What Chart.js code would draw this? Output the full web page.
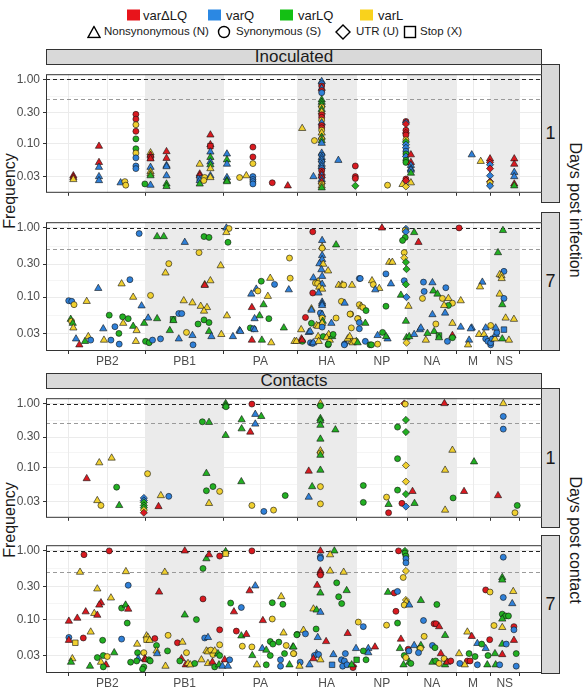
<!DOCTYPE html>
<html lang="en">
<head>
<meta charset="UTF-8">
<title>Variant frequencies</title>
<script src="https://cdn.jsdelivr.net/npm/chart.js"></script>
<style>
  body { margin: 0; background: #fff; font-family: 'Liberation Sans', Arial, sans-serif; }
  #wrap { position: relative; width: 583px; height: 687px; overflow: hidden; }
  canvas { position: absolute; left: 0; }
  .abs { position: absolute; white-space: nowrap; color: #1a1a1a; }
  .strip { position: absolute; box-sizing: border-box; background: #D9D9D9; border: 1px solid #333;
           display: flex; align-items: center; justify-content: center; color: #1a1a1a; }
  .lg { position: absolute; line-height: 1; transform: translateY(-50%); color: #1a1a1a; }
</style>
</head>
<body>
<div id="wrap">
  <!-- legend -->
  <div class="lg" style="left:127px;top:15px;width:13px;height:11px;background:#E8141B"></div>
  <div class="lg" style="left:143px;top:15px;font-size:13px">varΔLQ</div>
  <div class="lg" style="left:208px;top:15px;width:13px;height:11px;background:#2B88E3"></div>
  <div class="lg" style="left:226px;top:15px;font-size:13px">varQ</div>
  <div class="lg" style="left:280px;top:15px;width:13px;height:11px;background:#14C014"></div>
  <div class="lg" style="left:298px;top:15px;font-size:13px">varLQ</div>
  <div class="lg" style="left:360px;top:15px;width:13px;height:11px;background:#F9D21C"></div>
  <div class="lg" style="left:378px;top:15px;font-size:13px">varL</div>

  <svg class="lg" style="left:87px;top:32px" width="14" height="13"><polygon points="7,1 13,12 1,12" fill="none" stroke="#000" stroke-width="1.4"/></svg>
  <div class="lg" style="left:104px;top:32px;font-size:11.5px">Nonsynonymous (N)</div>
  <svg class="lg" style="left:217px;top:32px" width="14" height="14"><circle cx="7" cy="7" r="5.5" fill="none" stroke="#000" stroke-width="1.4"/></svg>
  <div class="lg" style="left:236px;top:32px;font-size:11.5px">Synonymous (S)</div>
  <svg class="lg" style="left:335px;top:32px" width="16" height="16"><polygon points="8,1 15,8 8,15 1,8" fill="none" stroke="#000" stroke-width="1.4"/></svg>
  <div class="lg" style="left:356px;top:32px;font-size:11.5px">UTR (U)</div>
  <svg class="lg" style="left:403px;top:32px" width="14" height="14"><rect x="1.5" y="1.5" width="11" height="11" fill="none" stroke="#000" stroke-width="1.4"/></svg>
  <div class="lg" style="left:420px;top:32px;font-size:11.5px">Stop (X)</div>

  <!-- strips -->
  <div class="strip" style="left:46px;top:49px;width:496px;height:16px;font-size:17px">Inoculated</div>
  <div class="strip" style="left:46px;top:373px;width:496px;height:16px;font-size:17px">Contacts</div>
  <div class="strip" style="left:541px;top:64px;width:19px;height:139px;font-size:18px">1</div>
  <div class="strip" style="left:541px;top:212px;width:19px;height:139px;font-size:18px">7</div>
  <div class="strip" style="left:541px;top:388px;width:19px;height:140px;font-size:18px">1</div>
  <div class="strip" style="left:541px;top:535px;width:19px;height:139px;font-size:18px">7</div>

  <!-- axis titles -->
  <div class="abs" style="left:10px;top:191px;font-size:16px;transform:translate(-50%,-50%) rotate(-90deg)">Frequency</div>
  <div class="abs" style="left:10px;top:520px;font-size:16px;transform:translate(-50%,-50%) rotate(-90deg)">Frequency</div>
  <div class="abs" style="left:575px;top:210px;font-size:16px;transform:translate(-50%,-50%) rotate(90deg)">Days post infection</div>
  <div class="abs" style="left:575px;top:540px;font-size:16px;transform:translate(-50%,-50%) rotate(90deg)">Days post contact</div>

  <canvas id="inoc1" width="542" height="139" style="top:64px"></canvas>
  <canvas id="inoc7" width="542" height="161" style="top:212px"></canvas>
  <canvas id="cont1" width="542" height="140" style="top:388px"></canvas>
  <canvas id="cont7" width="542" height="152" style="top:535px"></canvas>
</div>
<script>
// genome segments (concatenated along the x axis)
const segments = ['PB2', 'PB1', 'PA', 'HA', 'NP', 'NA', 'M', 'NS'];
const segLengths = [2341, 2341, 2233, 1778, 1565, 1458, 1027, 890];
const variants = ['varΔLQ', 'varQ', 'varLQ', 'varL'];
const mutTypes = ['N', 'S', 'U', 'X'];
const freqTicks = [0.03, 0.10, 0.30, 1.00];

// [genome position, frequency, variant index, mutation type]
const inoculatedDay1 = [
  [145,0.031,0,'N'],[145,0.029,0,'N'],[145,0.027,3,'N'],
  [920,0.090,0,'N'],[920,0.050,0,'N'],[920,0.042,1,'N'],[920,0.030,1,'N'],[920,0.026,1,'N'],
  [1574,0.024,1,'N'],[1704,0.025,3,'S'],[1730,0.022,3,'S'],
  [2036,0.284,0,'S'],[2036,0.239,0,'S'],[2036,0.195,3,'S'],[2036,0.154,0,'S'],[2036,0.117,2,'S'],
  [2036,0.082,2,'S'],[2036,0.070,3,'S'],[2036,0.059,1,'S'],[2036,0.044,1,'S'],[2036,0.040,1,'S'],
  [2307,0.023,2,'S'],
  [2479,0.071,3,'N'],[2479,0.065,0,'N'],[2479,0.060,0,'X'],[2479,0.057,0,'N'],[2479,0.042,1,'N'],
  [2479,0.036,3,'N'],[2479,0.033,3,'N'],[2479,0.031,2,'N'],[2479,0.022,1,'N'],
  [2962,0.074,0,'N'],[2962,0.058,0,'N'],[2962,0.045,1,'N'],[2962,0.043,1,'N'],[2962,0.031,1,'N'],
  [2962,0.023,2,'N'],[2962,0.021,2,'N'],
  [3966,0.047,3,'N'],[3966,0.033,0,'N'],[3966,0.031,0,'N'],[3966,0.028,1,'X'],[3966,0.026,1,'N'],
  [3966,0.023,2,'N'],[4117,0.029,3,'S'],[4090,0.026,3,'S'],
  [4289,0.135,0,'N'],[4289,0.095,0,'N'],[4289,0.090,0,'X'],[4289,0.073,1,'N'],[4289,0.060,2,'N'],
  [4289,0.051,1,'N'],[4289,0.046,2,'N'],[4289,0.040,3,'N'],[4289,0.031,1,'N'],[4289,0.029,3,'N'],
  [4789,0.068,1,'N'],[4789,0.055,2,'N'],[4789,0.047,1,'N'],[4789,0.029,1,'N'],[4789,0.026,2,'N'],[4789,0.025,2,'N'],
  [5172,0.029,3,'S'],[5375,0.031,3,'N'],
  [5574,0.087,0,'S'],[5574,0.061,0,'S'],[5574,0.048,3,'S'],[5574,0.030,1,'S'],[5574,0.027,1,'S'],
  [5574,0.025,1,'S'],[5574,0.023,1,'S'],
  [6159,0.024,0,'S'],[6629,0.0215,0,'N'],
  [7064,0.171,3,'N'],[7404,0.030,1,'N'],[7434,0.110,3,'S'],
  [7654,0.93,1,'N'],[7654,0.86,1,'S'],[7654,0.79,0,'S'],[7654,0.73,1,'N'],[7654,0.67,0,'S'],[7654,0.62,1,'S'],
  [7654,0.48,2,'N'],[7654,0.44,2,'N'],[7654,0.40,2,'N'],[7654,0.37,3,'S'],[7654,0.34,2,'N'],[7654,0.31,3,'N'],
  [7654,0.28,0,'S'],[7654,0.255,0,'S'],[7654,0.23,3,'S'],[7654,0.21,1,'N'],[7654,0.19,0,'S'],[7654,0.175,0,'S'],
  [7654,0.16,3,'S'],[7654,0.145,3,'N'],[7654,0.125,2,'N'],[7654,0.117,3,'S'],[7654,0.11,2,'N'],[7654,0.10,1,'N'],
  [7654,0.070,1,'N'],[7654,0.065,1,'S'],[7654,0.060,1,'N'],[7654,0.055,1,'N'],[7654,0.051,1,'S'],[7654,0.047,1,'N'],
  [7654,0.043,1,'N'],[7654,0.040,1,'S'],[7654,0.037,0,'S'],[7654,0.034,0,'N'],[7654,0.031,1,'N'],[7654,0.029,0,'S'],
  [7654,0.027,1,'N'],[7654,0.025,0,'N'],[7654,0.023,3,'S'],[7654,0.0215,3,'N'],[7654,0.020,2,'N'],
  [8158,0.054,1,'N'],
  [8671,0.044,0,'S'],[8671,0.030,0,'S'],[8671,0.028,0,'S'],[8671,0.0215,2,'U'],
  [9645,0.022,3,'S'],
  [10098,0.0226,3,'N'],[10200,0.021,3,'U'],[10351,0.024,3,'N'],
  [10200,0.22,0,'S'],[10200,0.21,1,'U'],[10200,0.20,0,'U'],[10200,0.16,0,'S'],[10200,0.145,0,'U'],[10200,0.135,0,'S'],
  [10200,0.113,3,'S'],[10200,0.105,2,'U'],[10200,0.095,1,'U'],[10200,0.085,1,'U'],[10200,0.075,1,'S'],[10200,0.068,2,'S'],
  [10200,0.062,1,'U'],[10200,0.054,2,'S'],[10200,0.050,2,'S'],[10200,0.0275,0,'S'],[10200,0.026,0,'U'],
  [10351,0.066,0,'N'],[10351,0.050,0,'N'],[10351,0.045,1,'N'],[10351,0.040,1,'N'],[10351,0.038,1,'N'],[10351,0.034,2,'N'],
  [12191,0.066,1,'N'],[12462,0.052,3,'N'],
  [12743,0.057,0,'N'],[12743,0.050,0,'U'],[12743,0.046,1,'U'],[12743,0.040,0,'U'],[12743,0.031,1,'U'],
  [12743,0.025,0,'U'],[12743,0.024,3,'S'],[12743,0.0215,1,'U'],
  [13476,0.057,0,'N'],[13476,0.047,0,'N'],[13476,0.035,1,'N'],[13476,0.030,1,'N'],[13476,0.023,0,'N'],[13476,0.0215,2,'N']
];

const inoculatedDay7 = [
  [5,0.089,1,'S'],[96,0.087,1,'S'],[166,0.078,3,'S'],[549,0.087,3,'N'],[899,0.134,1,'N'],[1604,0.156,3,'N'],
  [1855,0.179,1,'S'],[2135,0.83,1,'S'],[1954,0.100,3,'N'],[2208,0.075,1,'N'],[2479,0.106,3,'S'],
  [2678,0.75,2,'N'],[2880,0.75,2,'N'],[3514,0.62,1,'N'],[3031,0.305,3,'S'],[2931,0.224,3,'N'],
  [4096,0.75,2,'S'],[4247,0.73,2,'S'],[3945,0.44,3,'S'],[4599,0.285,3,'N'],[4117,0.152,3,'N'],[4117,0.148,0,'N'],
  [4289,0.173,3,'N'],[4771,1.0,1,'N'],[4850,0.98,3,'S'],[4771,0.86,3,'N'],[4820,0.62,2,'S'],
  [3483,0.089,3,'N'],[3746,0.083,3,'N'],[3333,0.058,1,'S'],[3423,0.058,1,'S'],[3996,0.074,3,'N'],[4186,0.071,3,'N'],
  [4096,0.063,3,'N'],[3161,0.048,2,'X'],[3170,0.046,2,'N'],[2407,0.050,1,'N'],[2678,0.049,2,'N'],[2286,0.042,2,'N'],
  [4096,0.047,2,'S'],[3915,0.041,2,'S'],[4247,0.043,2,'S'],[4789,0.054,3,'N'],[1230,0.055,2,'S'],[1635,0.052,2,'S'],
  [1804,0.049,2,'S'],[1653,0.042,3,'N'],[1954,0.038,2,'N'],[1402,0.0375,1,'S'],[1050,0.035,1,'N'],[66,0.048,2,'N'],
  [90,0.045,3,'S'],[127,0.042,2,'N'],[145,0.036,3,'N'],[2057,0.033,3,'N'],[3565,0.031,3,'S'],
  [5525,0.111,1,'N'],[5676,0.131,1,'N'],[5724,0.123,3,'S'],[5827,0.17,2,'S'],[6026,0.103,3,'N'],[6098,0.188,3,'N'],
  [6228,0.153,1,'S'],[6659,0.128,1,'N'],[6680,0.367,3,'S'],[6701,0.188,3,'S'],[5543,0.071,0,'N'],[5896,0.078,2,'N'],
  [5775,0.054,2,'N'],[5625,0.049,1,'N'],[6056,0.049,2,'S'],[5172,0.033,1,'N'],[5495,0.036,2,'S'],[5595,0.035,1,'S'],
  [6509,0.036,2,'N'],
  [226,0.025,1,'N'],[326,0.0205,0,'N'],[498,0.023,2,'N'],[597,0.027,3,'N'],[670,0.024,1,'S'],[1071,0.024,3,'N'],
  [1282,0.024,1,'S'],[1523,0.030,2,'S'],[1532,0.021,1,'S'],[2036,0.023,3,'N'],[2328,0.023,2,'S'],[2437,0.022,2,'S'],
  [2539,0.024,1,'S'],[2781,0.025,1,'S'],[3061,0.033,2,'N'],[3333,0.025,1,'N'],[3746,0.028,1,'N'],[3764,0.0205,1,'S'],
  [4247,0.032,2,'N'],[4319,0.027,1,'N'],[4620,0.029,3,'N'],[4970,0.027,1,'N'],[5193,0.032,1,'N'],[5625,0.034,1,'N'],
  [5543,0.024,0,'N'],[5845,0.024,2,'N'],[6129,0.022,3,'N'],[6831,0.023,3,'N'],
  [7383,0.88,0,'S'],[7667,0.66,1,'N'],[8089,0.57,2,'N'],[7667,0.53,3,'N'],[7667,0.51,3,'S'],[7667,0.40,1,'N'],
  [7667,0.35,1,'N'],[7585,0.305,1,'N'],[7700,0.30,3,'N'],[7645,0.25,1,'N'],[7847,0.24,3,'N'],[7667,0.20,1,'N'],
  [7404,0.19,1,'N'],[7546,0.168,3,'N'],[7465,0.160,3,'S'],[7530,0.158,3,'S'],[7667,0.154,1,'N'],[7580,0.14,3,'N'],
  [7667,0.131,3,'N'],[8167,0.149,3,'N'],[8270,0.151,3,'N'],[8320,0.150,3,'S'],[8571,0.149,3,'N'],[7383,0.115,0,'S'],
  [7560,0.115,1,'N'],[7667,0.085,1,'N'],[7667,0.080,1,'N'],[7667,0.076,1,'N'],[8250,0.087,3,'S'],[8348,0.082,1,'N'],
  [7344,0.068,3,'N'],[7344,0.065,1,'N'],[7163,0.051,0,'S'],[7615,0.059,1,'S'],[7667,0.056,1,'N'],[7667,0.050,3,'S'],
  [7685,0.045,2,'N'],[7667,0.042,3,'N'],[8089,0.050,3,'S'],[8530,0.057,3,'S'],[7947,0.042,1,'N'],[7344,0.042,2,'S'],
  [7500,0.039,3,'N'],[7546,0.038,3,'N'],[7667,0.037,1,'S'],[7033,0.034,3,'N'],[7262,0.031,1,'N'],[8550,0.036,3,'S'],
  [8752,0.049,3,'S'],[7042,0.025,0,'N'],[7546,0.027,3,'N'],[7866,0.029,3,'N'],[7700,0.027,2,'S'],[7800,0.026,3,'N'],
  [7314,0.022,1,'S'],[7380,0.0215,1,'S'],[7847,0.0205,2,'S'],[8348,0.021,1,'S'],[8469,0.025,3,'N'],[8560,0.023,3,'N'],
  [8701,0.023,2,'N'],[7070,0.023,2,'S'],[7305,0.032,1,'N'],[6890,0.023,3,'N'],[7064,0.024,0,'N'],[7400,0.022,1,'N'],
  [7564,0.023,3,'N'],[7900,0.024,3,'N'],[7970,0.027,2,'N'],[8000,0.029,2,'S'],[7857,0.021,2,'S'],
  [8792,0.078,3,'S'],[8850,0.073,3,'N'],[8900,0.071,3,'S'],[8994,0.064,2,'S'],[8511,0.057,3,'S'],[8741,0.049,3,'S'],
  [8973,0.042,2,'N'],[8792,0.043,1,'S'],[8792,0.035,1,'S'],[8973,0.023,1,'S'],[9114,0.0205,2,'S'],[9160,0.0205,2,'S'],
  [9344,0.021,3,'S'],[9344,0.028,1,'N'],[9494,0.031,2,'S'],[9645,0.025,1,'N'],[9600,0.027,2,'N'],[8339,0.0205,1,'S'],
  [8439,0.025,3,'N'],[8500,0.027,3,'N'],[8590,0.022,3,'N'],[8650,0.023,3,'S'],[8741,0.022,2,'N'],
  [9476,1.0,0,'N'],[9595,0.217,1,'S'],[8792,0.186,1,'S'],[8820,0.186,1,'S'],[9175,0.173,3,'N'],[9214,0.152,3,'S'],
  [9395,0.134,3,'N'],[9274,0.128,1,'N'],[9748,0.156,1,'N'],[9695,0.32,3,'N'],[9790,0.32,3,'N'],[9597,0.074,2,'S'],
  [10278,0.074,3,'N'],
  [10200,0.97,1,'U'],[10180,0.92,3,'S'],[10200,0.88,1,'U'],[10450,0.86,2,'N'],[10179,0.73,2,'S'],[10098,0.66,2,'S'],
  [10580,0.62,0,'N'],[10149,0.44,3,'S'],[10149,0.37,3,'U'],[10200,0.32,2,'U'],[10218,0.254,2,'U'],[10149,0.173,1,'S'],
  [10200,0.153,2,'U'],[10731,0.165,1,'S'],[11002,0.162,1,'N'],[11406,0.137,1,'S'],[10752,0.121,1,'S'],[11029,0.123,2,'N'],
  [11153,0.111,2,'N'],[10049,0.107,2,'N'],[10218,0.10,1,'U'],[10701,0.096,3,'S'],[11304,0.096,3,'S'],[11485,0.096,3,'N'],
  [11858,0.089,3,'N'],[11606,0.082,3,'S'],[11485,0.076,2,'S'],[11355,0.076,3,'N'],[10200,0.045,2,'N'],[11002,0.056,1,'N'],
  [11385,0.059,1,'N'],[11105,0.041,3,'S'],[11606,0.042,3,'N'],
  [10218,0.026,2,'N'],[10218,0.022,3,'U'],[10300,0.027,2,'N'],[10450,0.029,1,'N'],[10622,0.034,1,'N'],[10803,0.024,3,'N'],
  [10851,0.030,2,'N'],[11053,0.032,2,'N'],[11200,0.028,2,'X'],[11200,0.026,2,'N'],[11455,0.023,1,'S'],[11606,0.028,0,'N'],
  [11606,0.026,2,'S'],[10652,0.036,1,'N'],
  [11808,1.0,0,'S'],[11858,0.037,1,'N'],[12191,0.036,1,'N'],[12161,0.035,1,'N'],[12110,0.024,1,'N'],[12079,0.0205,3,'N'],
  [12411,0.029,3,'N'],[12561,0.029,3,'N'],[12612,0.025,1,'S'],[12680,0.023,1,'S'],[12763,0.0205,1,'S'],[12763,0.022,1,'S'],
  [12810,0.025,1,'S'],[12893,0.025,3,'N'],[12914,0.029,1,'N'],[12950,0.031,1,'S'],[13164,0.034,1,'X'],[13113,0.025,2,'N'],
  [13315,0.024,3,'N'],[12511,0.165,1,'N'],[12441,0.141,3,'N'],[12984,0.44,2,'N'],[13134,0.92,2,'N'],[13164,0.236,1,'S'],
  [13035,0.212,3,'N'],[13090,0.205,3,'N'],[13095,0.186,3,'N'],[13035,0.111,3,'N'],[13164,0.096,1,'S'],[13113,0.078,2,'N'],
  [13215,0.050,3,'N'],[13466,0.048,3,'N'],[12763,0.039,3,'S'],[12914,0.036,1,'N'],[12612,0.036,1,'N']
];

const contactsDay1 = [
  [4750,1.0,2,'N'],[4750,0.92,2,'N'],[4760,0.89,2,'S'],[5543,0.98,0,'S'],[5646,0.68,1,'N'],[5827,0.63,2,'N'],
  [5233,0.56,2,'N'],[5646,0.48,1,'N'],[4047,0.52,2,'S'],[4247,0.51,2,'N'],[5233,0.405,2,'N'],[5495,0.36,0,'N'],
  [4750,0.32,2,'N'],[929,0.12,3,'N'],[1303,0.142,3,'N'],[549,0.068,0,'N'],[1454,0.050,2,'S'],[869,0.031,3,'N'],
  [980,0.026,3,'S'],[1532,0.026,2,'N'],[2389,0.081,3,'S'],
  [2277,0.034,1,'U'],[2277,0.031,1,'U'],[2277,0.029,2,'U'],[2277,0.026,2,'U'],[2277,0.024,2,'U'],[2277,0.022,3,'U'],
  [2277,0.020,0,'U'],[2790,0.037,3,'N'],[3031,0.036,1,'S'],[2720,0.025,0,'N'],[4168,0.082,2,'N'],[4367,0.051,2,'S'],
  [4168,0.044,2,'S'],[4569,0.043,3,'S'],[4247,0.028,3,'N'],[5224,0.061,2,'N'],[5543,0.026,3,'S'],[5905,0.021,1,'S'],
  [6198,0.022,3,'S'],[6551,0.037,2,'S'],
  [7615,1.0,3,'N'],[7615,0.92,2,'S'],[7615,0.585,2,'N'],[7615,0.54,2,'N'],[7615,0.46,2,'N'],[8068,0.39,2,'N'],
  [7615,0.28,2,'N'],[7615,0.184,3,'N'],[7615,0.17,3,'S'],[7615,0.157,2,'N'],[7262,0.089,0,'N'],[7615,0.092,2,'N'],
  [7365,0.051,2,'N'],[7615,0.051,3,'S'],[7262,0.035,1,'N'],[7615,0.0275,3,'S'],
  [8912,0.053,2,'S'],[8912,0.029,2,'S'],[9615,0.035,3,'S'],[9676,0.027,2,'N'],[9676,0.020,0,'S'],[9947,0.43,2,'S'],
  [9947,0.139,2,'S'],[9947,0.045,2,'S'],[10080,0.028,0,'S'],
  [10149,1.0,0,'U'],[10180,0.98,3,'S'],[10200,0.556,2,'U'],[10200,0.36,2,'U'],[10200,0.109,3,'U'],[10200,0.061,3,'U'],
  [10200,0.039,2,'U'],[10200,0.025,1,'U'],[10400,0.043,0,'N'],[10460,0.028,2,'N'],[11364,1.0,0,'N'],[11606,0.188,3,'N'],
  [11385,0.092,3,'N'],[11385,0.022,3,'N'],[11627,0.034,2,'S'],
  [11958,0.043,0,'N'],[12260,0.124,2,'N'],[12984,0.037,0,'N'],[13144,1.0,3,'N'],[13144,0.63,1,'S'],[13144,0.40,1,'S'],
  [13566,0.026,2,'S'],[13497,0.020,3,'S']
];

const contactsDay7 = [
  [467,0.88,0,'S'],[1230,1.0,0,'S'],[347,0.49,3,'N'],[1734,0.50,3,'N'],[1804,0.316,1,'S'],[869,0.28,3,'N'],
  [1282,0.207,3,'N'],[980,0.176,0,'N'],[929,0.163,0,'N'],[519,0.13,0,'N'],[265,0.105,0,'N'],[10,0.095,0,'N'],
  [778,0.123,3,'N'],[869,0.116,0,'N'],[1604,0.147,2,'S'],[1725,0.163,2,'N'],[1804,0.142,0,'N'],[1774,0.089,2,'S'],
  [670,0.066,3,'N'],[10,0.055,1,'S'],[10,0.050,0,'N'],[205,0.046,3,'X'],[446,0.054,0,'S'],[1031,0.050,2,'S'],
  [1604,0.052,1,'S'],[1381,0.033,2,'N'],[1050,0.030,2,'S'],[1170,0.029,3,'S'],[869,0.028,2,'S'],[115,0.027,3,'N'],
  [75,0.024,2,'N'],[980,0.024,3,'N'],[1131,0.022,0,'N'],[1050,0.0205,2,'S'],[648,0.021,2,'N'],
  [1876,0.024,2,'S'],[2075,0.044,3,'N'],[2087,0.033,2,'S'],[2105,0.027,1,'N'],[2060,0.025,2,'S'],[2277,0.033,3,'S'],
  [2307,0.027,0,'N'],[2330,0.026,0,'N'],[2277,0.0205,2,'S'],[2238,0.019,2,'S'],[2428,0.026,2,'S'],[2470,0.025,2,'S'],
  [2358,0.058,3,'N'],[2400,0.055,3,'N'],[2358,0.051,3,'X'],[2450,0.050,3,'N'],[2609,0.053,0,'S'],[2660,0.042,2,'S'],
  [2660,0.035,3,'N'],[2678,0.032,1,'N'],[2992,0.035,2,'S'],[3010,0.059,3,'S'],[2931,0.021,3,'N'],[2910,0.49,3,'N'],
  [2738,0.252,0,'N'],
  [3514,1.0,0,'N'],[3293,0.046,0,'S'],[3444,0.047,3,'N'],[3514,0.117,2,'N'],[3866,0.10,2,'S'],[4065,0.20,0,'S'],
  [4065,0.555,2,'S'],[4168,0.77,2,'N'],[4247,0.88,0,'N'],[4569,0.84,0,'S'],[4750,0.98,2,'N'],[4750,0.91,3,'X'],
  [3565,0.033,3,'S'],[3414,0.027,0,'N'],[3363,0.025,2,'S'],[3544,0.022,0,'N'],[3613,0.023,3,'N'],[3680,0.022,3,'N'],
  [3815,0.023,2,'S'],[4017,0.026,3,'N'],[4117,0.054,1,'S'],[4216,0.055,1,'N'],[4569,0.071,0,'S'],[4569,0.043,3,'S'],
  [4168,0.035,3,'N'],[4216,0.034,3,'N'],[4300,0.036,3,'S'],[4367,0.031,3,'S'],[4420,0.035,3,'N'],[4518,0.032,2,'N'],
  [4569,0.030,2,'S'],[4216,0.023,3,'N'],[4349,0.024,0,'N'],[4418,0.0205,2,'S'],[4548,0.022,2,'N'],[4651,0.021,1,'N'],
  [4720,0.026,0,'N'],[4820,0.021,1,'N'],[4871,0.026,1,'S'],
  [4901,0.174,2,'S'],[5001,0.13,0,'N'],[5073,0.068,0,'S'],[5224,0.058,2,'N'],[5375,0.061,0,'N'],[5224,0.15,1,'S'],
  [5254,0.041,3,'S'],[5543,1.0,0,'S'],[5474,0.263,0,'N'],[5646,0.31,1,'N'],[5875,0.097,0,'N'],[5543,0.040,3,'S'],
  [5857,0.038,1,'N'],[5978,0.036,2,'N'],[6098,0.048,2,'S'],[6177,0.044,2,'S'],[6159,0.102,3,'S'],[6159,0.176,2,'S'],
  [6479,0.167,2,'S'],[6430,0.216,3,'N'],[6500,0.064,3,'N'],[6358,0.047,2,'S'],[6581,0.042,3,'S'],[6098,0.030,2,'S'],
  [5555,0.030,2,'N'],[5694,0.022,3,'N'],[5978,0.022,2,'S'],[6409,0.026,1,'S'],[6409,0.021,1,'S'],[6530,0.032,2,'S'],
  [6680,0.022,2,'N'],[6810,0.032,3,'S'],[6780,0.040,2,'N'],[6913,0.061,2,'S'],
  [7615,1.0,0,'N'],[7615,0.82,1,'S'],[7615,0.78,1,'S'],[8037,1.0,2,'N'],[7908,0.88,3,'N'],[7615,0.51,0,'N'],
  [7615,0.48,0,'N'],[7615,0.445,0,'S'],[7908,0.51,3,'N'],[8318,0.49,3,'N'],[7516,0.316,0,'N'],[8107,0.343,2,'S'],
  [8409,0.265,2,'N'],[7615,0.244,2,'N'],[8167,0.215,2,'S'],[8258,0.171,2,'S'],[7404,0.143,3,'N'],[7500,0.138,2,'N'],
  [7615,0.128,1,'N'],[7485,0.073,2,'S'],[7103,0.070,3,'N'],[7163,0.062,1,'S'],[6901,0.060,2,'S'],[7534,0.055,1,'N'],
  [7787,0.048,0,'N'],[8439,0.063,0,'N'],[6801,0.040,2,'N'],[6801,0.032,3,'S'],[7500,0.032,1,'N'],[7434,0.030,1,'S'],
  [7560,0.031,1,'S'],[8007,0.031,1,'N'],[8369,0.032,1,'S'],[7404,0.027,0,'N'],[7615,0.026,3,'N'],[7003,0.024,1,'S'],
  [6982,0.021,3,'N'],[7284,0.022,1,'N'],[7968,0.022,1,'X'],[8250,0.026,1,'S'],[8288,0.021,1,'S'],[8340,0.025,1,'S'],
  [8420,0.022,1,'S'],[8610,0.021,0,'U'],[8600,0.020,0,'S'],[8692,0.038,1,'N'],[8560,0.022,2,'N'],
  [8761,0.092,3,'S'],[8912,0.079,1,'S'],[9063,0.038,1,'N'],[9265,0.040,0,'N'],[8912,0.035,2,'S'],[9063,0.033,1,'N'],
  [8994,0.026,2,'S'],[8710,0.026,2,'X'],[9615,0.083,3,'S'],[9947,0.089,2,'S'],[9898,0.132,0,'S'],[9657,0.25,2,'N'],
  [9847,0.244,0,'S'],[9947,0.257,1,'S'],
  [9977,1.0,0,'S'],[10170,1.0,2,'U'],[10170,0.93,2,'S'],[10200,0.84,2,'S'],[10200,0.77,1,'S'],[10200,0.67,1,'S'],
  [10200,0.51,3,'U'],[10119,0.41,3,'S'],[10200,0.193,3,'U'],[10210,0.18,3,'N'],[10149,0.163,3,'S'],[10300,0.163,1,'N'],
  [10652,0.19,2,'N'],[11135,0.166,2,'S'],[10731,0.097,1,'S'],[11053,0.087,0,'S'],[11110,0.087,0,'S'],[11204,0.079,0,'N'],
  [10752,0.057,3,'S'],[11385,0.059,2,'N'],[10049,0.052,0,'N'],[10019,0.038,2,'N'],[10269,0.037,0,'S'],[10290,0.035,1,'S'],
  [10450,0.042,1,'N'],[10652,0.042,2,'N'],[10620,0.038,2,'S'],[10640,0.038,3,'S'],[10580,0.033,1,'S'],[11002,0.042,1,'S'],
  [11080,0.039,2,'S'],[11256,0.032,0,'N'],[10149,0.030,2,'S'],[10200,0.028,3,'S'],[10128,0.022,2,'N'],[10300,0.024,2,'N'],
  [10350,0.023,2,'S'],[11002,0.024,2,'N'],[11100,0.025,2,'S'],[11204,0.023,3,'S'],[11355,0.027,3,'S'],[11385,0.022,2,'N'],
  [11450,0.024,0,'N'],[11557,0.025,0,'S'],
  [12058,0.066,3,'N'],[12191,0.057,0,'N'],[11808,0.032,3,'N'],[12110,0.032,2,'S'],[12290,0.029,2,'S'],[12360,0.045,1,'N'],
  [12492,0.044,2,'S'],[12612,0.038,1,'N'],[12058,0.025,0,'S'],[12140,0.025,0,'S'],[11829,0.023,1,'S'],[11980,0.022,3,'N'],
  [12360,0.022,1,'S'],[12661,0.022,2,'N'],[12682,0.030,2,'S'],[12733,0.051,0,'S'],[12612,0.27,0,'S'],[12743,0.252,3,'S'],
  [13144,0.81,1,'S'],[13113,0.41,2,'N'],[13113,0.377,2,'N'],[13144,0.21,1,'S'],[13445,0.257,3,'N'],[13415,0.171,1,'N'],
  [13113,0.12,2,'S'],[13215,0.113,2,'S'],[13300,0.113,2,'S'],[13113,0.102,2,'N'],[12863,0.082,3,'S'],[13113,0.077,3,'N'],
  [13466,0.079,0,'S'],[13466,0.071,1,'S'],[13466,0.050,0,'N'],[13113,0.044,2,'N'],[13234,0.044,1,'S'],[12893,0.032,2,'N'],
  [13113,0.031,0,'N'],[13535,0.032,2,'S'],[12914,0.022,2,'N'],[13035,0.022,1,'S'],[13535,0.021,1,'S']
];

// ---- styling ----
const FONT = "'Liberation Sans', Arial, sans-serif";
const variantColors = ['#D91A20', '#2F80D8', '#22B022', '#F0D030'];
const shapeFor = { N: 'triangle', S: 'circle', U: 'rectRot', X: 'rect' };
const radiusFor = { N: 4.2, S: 3.0, U: 3.6, X: 3.9 };

// segment boundaries and midpoints on the concatenated genome
const segStarts = [];
let acc = 0;
segLengths.forEach(l => { segStarts.push(acc); acc += l; });
const genomeLen = acc;
const pad = genomeLen * 0.05;
const xTickVals = [];
segStarts.forEach((s, i) => { xTickVals.push(s); xTickVals.push(s + segLengths[i] / 2); });
xTickVals.push(genomeLen);

// log-scale grid: labelled ticks plus midpoints between them
const yGridVals = [];
freqTicks.forEach((t, i) => {
  yGridVals.push(t);
  if (i < freqTicks.length - 1) yGridVals.push(Math.sqrt(t * freqTicks[i + 1]));
});
const isMajorY = v => freqTicks.some(t => Math.abs(t - v) < 1e-9);

const panelDecor = {
  id: 'panelDecor',
  beforeDraw(chart) {
    const { ctx, chartArea: a, scales: { x } } = chart;
    ctx.save();
    ctx.fillStyle = '#fff';
    ctx.fillRect(a.left, a.top, a.width, a.height);
    ctx.fillStyle = '#EBEBEB';
    segStarts.forEach((s, i) => {
      if (i % 2 === 1) {
        const x0 = x.getPixelForValue(s), x1 = x.getPixelForValue(s + segLengths[i]);
        ctx.fillRect(x0, a.top, x1 - x0, a.height);
      }
    });
    ctx.restore();
  },
  beforeDatasetsDraw(chart) {
    const { ctx, chartArea: a, scales: { y } } = chart;
    ctx.save();
    ctx.lineWidth = 1;
    ctx.setLineDash([4, 3]);
    [[1.0, '#222'], [0.5, '#9a9a9a']].forEach(([v, c]) => {
      const py = Math.round(y.getPixelForValue(v)) + 0.5;
      ctx.strokeStyle = c;
      ctx.beginPath(); ctx.moveTo(a.left, py); ctx.lineTo(a.right, py); ctx.stroke();
    });
    ctx.restore();
  },
  afterDraw(chart) {
    const { ctx, chartArea: a } = chart;
    ctx.save();
    ctx.strokeStyle = '#333';
    ctx.lineWidth = 1;
    ctx.strokeRect(a.left + 0.5, a.top + 0.5, a.width - 1, a.height - 1);
    ctx.restore();
  }
};

function makePanel(id, points, axisHeight) {
  const showLabels = axisHeight > 0;
  return new Chart(document.getElementById(id), {
    type: 'scatter',
    data: {
      datasets: [{
        data: points.map(p => ({ x: p[0], y: p[1], v: p[2], t: p[3] })),
        backgroundColor: c => variantColors[c.raw.v],
        borderColor: '#111',
        borderWidth: 0.6,
        pointStyle: c => shapeFor[c.raw.t],
        pointRadius: c => radiusFor[c.raw.t]
      }]
    },
    options: {
      responsive: false,
      animation: false,
      events: [],
      layout: { padding: 0, autoPadding: false },
      plugins: { legend: { display: false }, tooltip: { enabled: false } },
      scales: {
        x: {
          type: 'linear',
          min: -pad,
          max: genomeLen + pad,
          afterBuildTicks: s => { s.ticks = xTickVals.map(v => ({ value: v })); },
          afterFit: s => { s.height = axisHeight; },
          border: { display: false },
          grid: {
            color: '#EBEBEB',
            lineWidth: 1,
            tickLength: 3,
            tickColor: c => (c.index % 2 === 0 ? '#333' : 'rgba(0,0,0,0)')
          },
          ticks: {
            display: showLabels,
            autoSkip: false,
            maxRotation: 0,
            padding: 0,
            color: '#4D4D4D',
            font: { family: FONT, size: 12 },
            callback: (v, i) => (i % 2 === 1 ? segments[(i - 1) / 2] : '')
          }
        },
        y: {
          type: 'logarithmic',
          min: 0.0167,
          max: 1.21,
          afterBuildTicks: s => { s.ticks = yGridVals.map(v => ({ value: v })); },
          afterFit: s => { s.width = 46; },
          border: { display: false },
          grid: {
            color: '#EBEBEB',
            lineWidth: c => (isMajorY(c.tick.value) ? 1 : 0.5),
            tickLength: 3,
            tickColor: c => (isMajorY(c.tick.value) ? '#333' : 'rgba(0,0,0,0)')
          },
          ticks: {
            autoSkip: false,
            padding: 3,
            color: '#4D4D4D',
            font: { family: FONT, size: 12 },
            callback: v => (isMajorY(v) ? Number(v).toFixed(2) : '')
          }
        }
      }
    },
    plugins: [panelDecor]
  });
}

makePanel('inoc1', inoculatedDay1, 0);
makePanel('inoc7', inoculatedDay7, 22);
makePanel('cont1', contactsDay1, 0);
makePanel('cont7', contactsDay7, 14);
</script>
</body>
</html>
